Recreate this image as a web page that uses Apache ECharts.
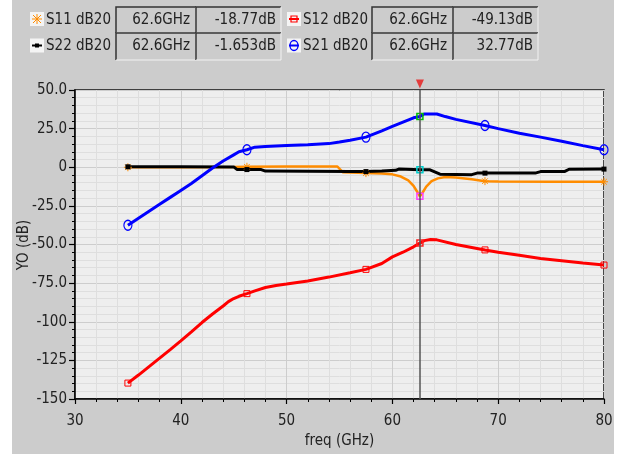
<!DOCTYPE html>
<html><head><meta charset="utf-8">
<script src="https://cdn.jsdelivr.net/npm/echarts@6/dist/echarts.min.js"></script>
<style>html,body{margin:0;padding:0;background:#fff}#c{width:626px;height:454px}</style>
</head><body><div id="c"></div>
<script>
// ---- data (freq GHz, dB) ----
const markerFreqs = [35, 46.25, 57.5, 68.75, 80];
const cursorFreq = 62.6;

const s11 = [[35,0],[40,0],[45,0.1],[46.25,0.3],[50,0.5],[54.8,0.5],[55.3,-3.2],[57.5,-3.8],[59,-4],[60,-4.6],[60.8,-6],[61.5,-8.5],[62,-12],[62.4,-16.5],[62.6,-18.8],[62.8,-17],[63.2,-12.5],[63.7,-9],[64.3,-7.2],[65,-6.3],[66,-6.6],[67.5,-7.8],[68.75,-9],[70,-9.3],[75,-9.4],[80,-9.4]];

const s22 = [[35,0.3],[40,0.3],[45,0.2],[45.3,-1.4],[46.25,-1.5],[47.6,-1.5],[48,-2.5],[52,-2.6],[56,-2.8],[57.5,-2.8],[59,-2.5],[60.3,-2],[60.6,-1.2],[62.6,-1.6],[63.5,-1.6],[64.5,-4.5],[67.5,-4.8],[68,-3.8],[68.75,-3.8],[73.5,-3.8],[74,-2.8],[76.3,-2.7],[76.7,-1.3],[80,-1.2]];

const s12 = [[35,-139.7],[36,-134.5],[37,-129],[38,-123.5],[39,-118],[40,-112.4],[41,-106.5],[42,-100.5],[43,-95],[44,-89.8],[44.5,-87],[45,-85],[45.5,-83.5],[46.25,-81.8],[47,-80],[48,-77.8],[49,-76.5],[50,-75.6],[52,-73.6],[54,-71.1],[56,-68.3],[57.5,-66.1],[59,-62.3],[60,-58],[61,-55],[62,-51.5],[62.6,-49.1],[63,-47.5],[63.6,-46.8],[64.2,-47],[66,-50],[68.75,-53.5],[70,-55],[72,-57],[74,-59],[76,-60.5],[78,-62],[80,-63.3]];

const s21 = [[35,-37.5],[36,-33],[37,-28.5],[38,-24],[39,-19.5],[40,-15],[41,-10.5],[42,-5.5],[43,-0.5],[44,4],[45,8],[45.5,10],[46.25,11.3],[47,13],[48,13.5],[50,14],[52,14.5],[54,15.3],[55,16.3],[56,17.5],[57.5,19.5],[59,23.6],[60,26.4],[61,29.2],[62,32],[62.6,32.8],[63,34.5],[64.2,34.5],[65,32.8],[66,31],[68.75,27],[70,25],[72,22],[74,19.5],[76,16.8],[78,14],[80,11.3]];

const legendNames = ['S11 dB20','S12 dB20','S22 dB20','S21 dB20'];
const legendFreqs = ['62.6GHz','62.6GHz','62.6GHz','62.6GHz'];
const legendValues = ['-18.77dB','-49.13dB','-1.653dB','32.77dB'];

const xName = 'freq (GHz)';
const yName = 'YO (dB)';

// ---- styles ----
const FONT = '"DejaVu Sans Condensed","DejaVu Sans",sans-serif';
const colors = ['#ff8c00','#ff0000','#000000','#0000ff'];
const asterisk = 'path://M0,5L10,5M5,0L5,10M1.5,1.5L8.5,8.5M8.5,1.5L1.5,8.5';
const markerDefs = [
  {symbol: asterisk, size: 8, style:{color:'rgba(0,0,0,0)', borderColor:'#ff8c00', borderWidth:1}},
  {symbol: 'rect', size: 6, style:{color:'rgba(0,0,0,0)', borderColor:'#ff0000', borderWidth:1}},
  {symbol: 'rect', size: 5, style:{color:'#000', borderColor:'#000', borderWidth:0}},
  {symbol: 'circle', size: [8,10], style:{color:'rgba(0,0,0,0)', borderColor:'#0000ff', borderWidth:1.3}}
];
const cursorBorders = ['#ff40ff','#ff2020','#00d0d0','#00c000'];

function buildData(arr, i) {
  return arr.map(p => {
    if (markerFreqs.includes(p[0])) return {value:p, symbol:markerDefs[i].symbol, symbolSize:markerDefs[i].size, itemStyle:markerDefs[i].style};
    if (p[0] === cursorFreq) return {value:p, symbol:'rect', symbolSize:6, itemStyle:{color:'rgba(0,0,0,0)', borderColor:cursorBorders[i], borderWidth:1.5}};
    return {value:p, symbol:'none'};
  });
}

const seriesArrs = [s11, s12, s22, s21];
const drawOrder = [0, 2, 1, 3];
const series = drawOrder.map(i => ({
  type:'line', name:legendNames[i], data:buildData(seriesArrs[i], i),
  showSymbol:true, showAllSymbol:true, symbol:'circle',
  lineStyle:{color:colors[i], width:i===0?2.5:3}, itemStyle:{color:colors[i]},
  animation:false, silent:true, z: 3
}));
series.push({
  type:'scatter', data:[[cursorFreq, 50]], symbol:'path://M0,0L10,0L5,10Z', symbolSize:[8,9], symbolOffset:[0,-6],
  itemStyle:{color:'#e81818'}, clip:false, silent:true, animation:false, z:5,
  markLine:{silent:true, symbol:['none','none'], label:{show:false}, animation:false,
    lineStyle:{color:'#555', width:1.5, type:'solid'}, data:[{xAxis:cursorFreq}]}
});

// ---- legend graphic ----
const graphic = [{type:'rect', shape:{x:12,y:0,width:602,height:454}, style:{fill:'#cccccc'}, z:-10, silent:true}];
const groupX = [[30,46,116,196,281],[287,303,372,453,538]];
const rowY = [[7,33],[33,60]];
function box(x0,y0,x1,y1){
  graphic.push({type:'polyline', shape:{points:[[x0,y1],[x0,y0],[x1,y0]]}, style:{stroke:'#333',lineWidth:1.5,fill:null}, silent:true});
  graphic.push({type:'polyline', shape:{points:[[x1,y0],[x1,y1],[x0,y1]]}, style:{stroke:'#f2f2f2',lineWidth:1,fill:null}, silent:true});
}
const legendPos = [[0,0],[1,0],[0,1],[1,1]]; // S11,S12,S22,S21
legendPos.forEach((pos, i) => {
  const g = groupX[pos[0]], r = rowY[pos[1]];
  const cy = (r[0]+r[1])/2;
  graphic.push({type:'rect', shape:{x:g[0],y:cy-8,width:14,height:14}, style:{fill:'#f4f4f4'}, silent:true});
  const icx = g[0]+7, icy = cy-1;
  if (i===0) {
    graphic.push({type:'polyline', shape:{points:[[icx-5,icy],[icx+5,icy]]}, style:{stroke:colors[0],lineWidth:1}, silent:true});
    graphic.push({type:'polyline', shape:{points:[[icx,icy-5],[icx,icy+5]]}, style:{stroke:colors[0],lineWidth:1}, silent:true});
    graphic.push({type:'polyline', shape:{points:[[icx-4,icy-4],[icx+4,icy+4]]}, style:{stroke:colors[0],lineWidth:1}, silent:true});
    graphic.push({type:'polyline', shape:{points:[[icx+4,icy-4],[icx-4,icy+4]]}, style:{stroke:colors[0],lineWidth:1}, silent:true});
  } else if (i===1) {
    graphic.push({type:'polyline', shape:{points:[[icx-5,icy],[icx+5,icy]]}, style:{stroke:colors[1],lineWidth:2}, silent:true});
    graphic.push({type:'rect', shape:{x:icx-3,y:icy-3,width:6,height:6}, style:{fill:null,stroke:colors[1],lineWidth:1.2}, silent:true});
  } else if (i===2) {
    graphic.push({type:'polyline', shape:{points:[[icx-5,icy],[icx+5,icy]]}, style:{stroke:'#000',lineWidth:2}, silent:true});
    graphic.push({type:'rect', shape:{x:icx-2,y:icy-2,width:4,height:4}, style:{fill:'#000'}, silent:true});
  } else {
    graphic.push({type:'polyline', shape:{points:[[icx-5,icy],[icx+5,icy]]}, style:{stroke:colors[3],lineWidth:2}, silent:true});
    graphic.push({type:'ellipse', shape:{cx:icx,cy:icy,rx:4,ry:5}, style:{fill:null,stroke:colors[3],lineWidth:1.3}, silent:true});
  }
  graphic.push({type:'text', x:g[1], y:cy, style:{text:legendNames[i], font:'15px '+FONT, fill:'#222', verticalAlign:'middle', align:'left'}, silent:true});
  box(g[2], r[0], g[3], r[1]);
  box(g[3], r[0], g[4], r[1]);
  graphic.push({type:'text', x:g[3]-6, y:cy, style:{text:legendFreqs[i], font:'15px '+FONT, fill:'#222', verticalAlign:'middle', align:'right'}, silent:true});
  graphic.push({type:'text', x:g[4]-5, y:cy, style:{text:legendValues[i], font:'15px '+FONT, fill:'#222', verticalAlign:'middle', align:'right'}, silent:true});
});
// y-axis title (rotated)
graphic.push({type:'text', x:24, y:245, rotation:Math.PI/2, style:{text:yName, font:'15px '+FONT, fill:'#222', align:'center', verticalAlign:'middle'}, silent:true});

const chart = echarts.init(document.getElementById('c'), null, {renderer:'canvas'});
chart.setOption({
  animation:false,
  backgroundColor:'transparent',
  graphic: graphic,
  grid:{left:75, right:22, top:90, bottom:54, show:true, backgroundColor:'#eeeeee', borderColor:'#111', borderWidth:1.5, containLabel:false},
  xAxis:{type:'value', min:30, max:80, interval:10, name:xName, nameLocation:'middle', nameGap:35, nameMoveOverlap:false,
    nameTextStyle:{fontFamily:FONT, fontSize:15, color:'#222'},
    axisLine:{show:true, onZero:false, lineStyle:{color:'#000', width:1.5}},
    axisTick:{show:true, length:5, lineStyle:{color:'#000', width:1.2}},
    minorTick:{show:true, splitNumber:5, length:3, lineStyle:{color:'#000', width:1}},
    axisLabel:{fontFamily:FONT, fontSize:15, color:'#222', margin:15},
    splitLine:{show:true, lineStyle:{color:'#cdcdcd', width:1}},
    minorSplitLine:{show:true, lineStyle:{color:'#dedede', width:1}}},
  yAxis:{type:'value', min:-150, max:50, interval:25,
    axisLine:{show:true, onZero:false, lineStyle:{color:'#000', width:1.5}},
    axisTick:{show:true, length:6, lineStyle:{color:'#000', width:1.2}},
    minorTick:{show:true, splitNumber:5, length:3, lineStyle:{color:'#000', width:1}},
    axisLabel:{fontFamily:FONT, fontSize:15, color:'#222', margin:8,
      formatter: v => v === 0 ? '0' : (Math.abs(v) >= 100 ? String(v) : v.toFixed(1))},
    splitLine:{show:true, lineStyle:{color:'#cdcdcd', width:1}},
    minorSplitLine:{show:true, lineStyle:{color:'#dedede', width:1}}},
  series: series
});
</script></body></html>
